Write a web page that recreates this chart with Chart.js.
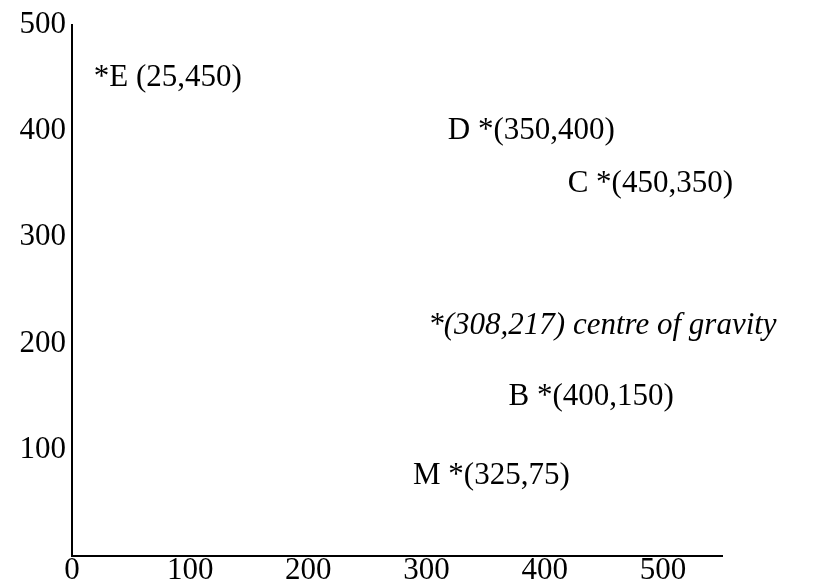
<!DOCTYPE html>
<html>
<head>
<meta charset="utf-8">
<script src="https://cdn.jsdelivr.net/npm/chart.js@4.4.0/dist/chart.umd.min.js"></script>
<style>
  html,body{margin:0;padding:0;background:#fff;}
  canvas{display:block;}
</style>
</head>
<body>
<canvas id="cog" width="819" height="585"></canvas>
<script>
// points, as written in the sketch
const vertexNames = ['E', 'D', 'C', 'B', 'M'];
const vertexX = [25, 350, 450, 400, 325];
const vertexY = [450, 400, 350, 150, 75];
const centreName = 'centre of gravity';
const centreX = [308];
const centreY = [217];

// axis ticks
const xTickValues = [0, 100, 200, 300, 400, 500];
const xTickLabels = ['0', '100', '200', '300', '400', '500'];
const yTickValues = [100, 200, 300, 400, 500];
const yTickLabels = ['100', '200', '300', '400', '500'];

const FONT = '"Liberation Serif", "Times New Roman", serif';
const SIZE = 31;

// label pieces: text before the asterisk / after it
const vertexParts = vertexNames.map((n, i) => {
  const c = `(${vertexX[i]},${vertexY[i]})`;
  return n === 'E' ? {before: '', after: `${n} ${c}`} : {before: `${n} `, after: c};
});
const centreParts = [{before: '', after: `(${centreX[0]},${centreY[0]}) ${centreName}`}];

// draws the text labels, asterisk sitting on the data point
const starLabels = {
  id: 'starLabels',
  afterDatasetsDraw(chart) {
    const ctx = chart.ctx;
    chart.data.datasets.forEach((ds, di) => {
      const meta = chart.getDatasetMeta(di);
      ctx.save();
      ctx.font = (ds.italic ? 'italic ' : '') + SIZE + 'px ' + FONT;
      ctx.fillStyle = '#000';
      ctx.textBaseline = 'middle';
      ctx.textAlign = 'left';
      meta.data.forEach((pt, i) => {
        const p = ds.parts[i];
        const starW = ctx.measureText('*').width;
        const x0 = pt.x - ctx.measureText(p.before).width - starW / 2;
        ctx.fillText(p.before + '*' + p.after, x0, pt.y);
      });
      ctx.restore();
    });
  }
};

new Chart(document.getElementById('cog'), {
  type: 'scatter',
  data: {
    datasets: [
      {label: 'points', data: vertexX.map((x, i) => ({x, y: vertexY[i]})), parts: vertexParts, pointRadius: 0},
      {label: centreName, data: centreX.map((x, i) => ({x, y: centreY[i]})), parts: centreParts, italic: true, pointRadius: 0}
    ]
  },
  options: {
    responsive: false,
    animation: false,
    layout: {padding: {top: 13, right: 97, bottom: 0, left: 0}, autoPadding: false},
    plugins: {legend: {display: false}, tooltip: {enabled: false}},
    scales: {
      x: {
        type: 'linear', min: 0, max: 550,
        grid: {display: false, drawTicks: false},
        border: {display: true, color: '#000', width: 2},
        afterBuildTicks: s => { s.ticks = xTickValues.map(v => ({value: v})); },
        afterFit: s => { s.height = 29; },
        ticks: {
          color: '#000', padding: -4, maxRotation: 0, autoSkip: false,
          font: {family: FONT, size: SIZE},
          callback: (v, i) => xTickLabels[i]
        }
      },
      y: {
        type: 'linear', min: 0, max: 500,
        grid: {display: false, drawTicks: false},
        border: {display: true, color: '#000', width: 2},
        afterBuildTicks: s => { s.ticks = yTickValues.map(v => ({value: v})); },
        afterFit: s => { s.width = 72; },
        ticks: {
          color: '#000', padding: 6, autoSkip: false,
          font: {family: FONT, size: SIZE},
          callback: (v, i) => yTickLabels[i]
        }
      }
    }
  },
  plugins: [starLabels]
});
</script>
</body>
</html>
